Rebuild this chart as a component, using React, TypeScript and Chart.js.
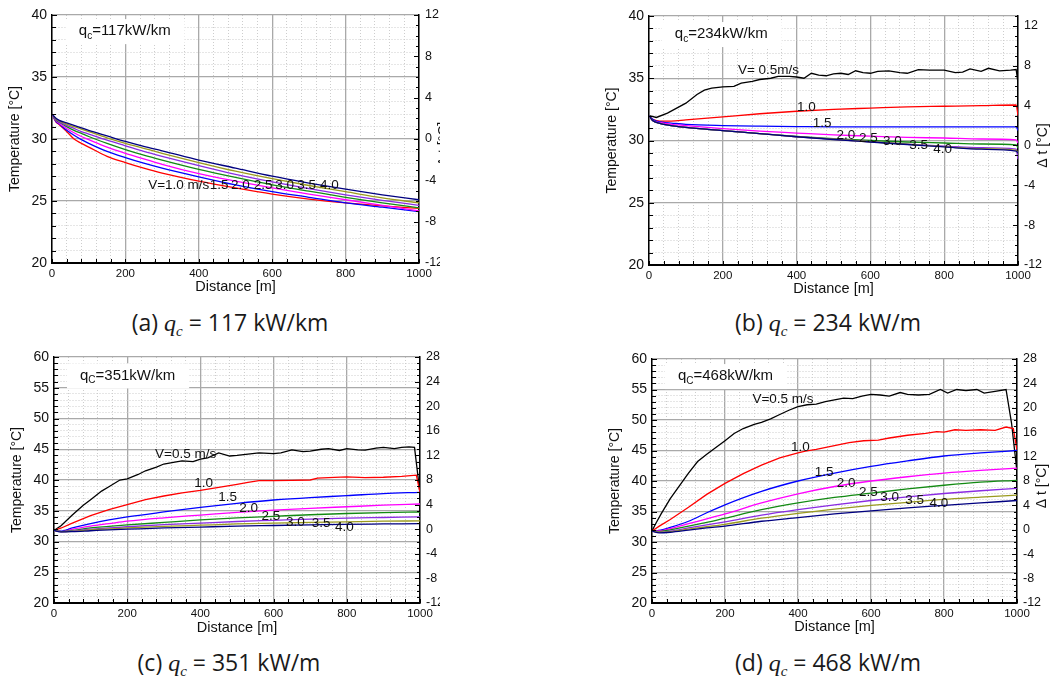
import React, { useEffect, useRef } from "react";
import { Chart, registerables } from "chart.js";

Chart.register(...registerables);

// ================= DATA =================
// Panel (a) qc = 117 kW/km
const distA = [0, 10, 20, 40, 60, 80, 100, 150, 200, 250, 300, 400, 500, 600, 700, 800, 900, 1000];
const tempA_v10 = [32, 31.4, 31.15, 30.6, 30.0, 29.65, 29.35, 28.6, 28.1, 27.65, 27.25, 26.6, 26.05, 25.55, 25.15, 24.85, 24.6, 24.4];
const tempA_v15 = [32, 31.45, 31.2, 30.7, 30.3, 29.95, 29.65, 29.0, 28.5, 28.05, 27.65, 26.95, 26.3, 25.75, 25.3, 24.85, 24.5, 24.15];
const tempA_v20 = [32, 31.5, 31.25, 30.85, 30.5, 30.2, 29.95, 29.35, 28.85, 28.4, 27.95, 27.2, 26.6, 26.05, 25.55, 25.1, 24.65, 24.2];
const tempA_v25 = [32, 31.55, 31.35, 31.0, 30.7, 30.45, 30.2, 29.65, 29.15, 28.7, 28.3, 27.55, 26.9, 26.3, 25.8, 25.3, 24.85, 24.45];
const tempA_v30 = [32, 31.6, 31.4, 31.1, 30.85, 30.6, 30.4, 29.9, 29.45, 29.0, 28.6, 27.85, 27.15, 26.55, 26.0, 25.5, 25.05, 24.65];
const tempA_v35 = [32, 31.65, 31.45, 31.2, 31.0, 30.8, 30.6, 30.1, 29.65, 29.25, 28.85, 28.1, 27.4, 26.8, 26.25, 25.75, 25.25, 24.85];
const tempA_v40 = [32, 31.7, 31.5, 31.3, 31.1, 30.9, 30.7, 30.25, 29.8, 29.4, 29.05, 28.3, 27.65, 27.0, 26.45, 25.95, 25.5, 25.1];

// Panel (b) qc = 234 kW/km
const distB = [0, 10, 20, 40, 60, 100, 200, 300, 400, 500, 600, 700, 800, 900, 995, 1000];
const tempB_v10 = [32.0, 31.7, 31.6, 31.55, 31.55, 31.65, 31.9, 32.15, 32.35, 32.5, 32.6, 32.7, 32.75, 32.8, 32.85, 32.0];
const tempB_v15 = [32.0, 31.7, 31.55, 31.45, 31.4, 31.3, 31.2, 31.15, 31.12, 31.1, 31.1, 31.1, 31.1, 31.1, 31.1, 30.8];
const tempB_v20 = [32.0, 31.6, 31.5, 31.4, 31.3, 31.2, 30.95, 30.75, 30.6, 30.45, 30.35, 30.25, 30.2, 30.12, 30.05, 29.8];
const tempB_v25 = [32.0, 31.6, 31.45, 31.3, 31.2, 31.05, 30.8, 30.55, 30.33, 30.15, 30.0, 29.88, 29.8, 29.72, 29.65, 29.4];
const tempB_v30 = [32.0, 31.6, 31.45, 31.3, 31.2, 31.05, 30.8, 30.55, 30.3, 30.1, 29.9, 29.7, 29.55, 29.42, 29.3, 28.5];
const tempB_v35 = [32.0, 31.6, 31.45, 31.3, 31.2, 31.05, 30.8, 30.55, 30.3, 30.1, 29.9, 29.7, 29.5, 29.35, 29.2, 29.0];
const tempB_v40 = [32.0, 31.6, 31.45, 31.3, 31.2, 31.05, 30.8, 30.55, 30.3, 30.08, 29.88, 29.68, 29.48, 29.3, 29.15, 29.0];
const distB_v05 = [0, 20, 50, 100, 130, 150, 170, 200, 230, 250, 280, 300, 330, 350, 380, 400, 420, 440, 460, 480, 500, 520, 540, 560, 580, 600, 620, 650, 680, 700, 730, 760, 800, 830, 850, 870, 900, 920, 950, 980, 995, 1000];
const tempB_v05 = [32.0, 31.85, 32.2, 33.0, 33.7, 34.05, 34.2, 34.3, 34.35, 34.6, 34.75, 34.9, 35.0, 35.15, 35.15, 35.1, 35.0, 35.4, 35.25, 35.2, 35.35, 35.4, 35.3, 35.6, 35.45, 35.4, 35.55, 35.6, 35.45, 35.4, 35.7, 35.65, 35.65, 35.45, 35.5, 35.75, 35.55, 35.8, 35.6, 35.65, 35.7, 34.6];

// Panel (c) qc = 351 kW/km
const distC = [0, 20, 50, 100, 150, 200, 300, 400, 500, 600, 700, 800, 900, 1000];
const tempC_v15 = [31.8, 31.7, 32.2, 32.9, 33.5, 34.0, 34.8, 35.55, 36.2, 36.75, 37.15, 37.45, 37.8, 38.0];
const tempC_v20 = [31.8, 31.6, 32.0, 32.5, 32.9, 33.3, 33.85, 34.3, 34.75, 35.1, 35.4, 35.65, 35.9, 36.1];
const tempC_v25 = [31.8, 31.6, 31.8, 32.2, 32.45, 32.7, 33.1, 33.5, 33.85, 34.1, 34.35, 34.55, 34.7, 34.8];
const tempC_v30 = [31.8, 31.6, 31.7, 32.0, 32.2, 32.4, 32.75, 33.0, 33.25, 33.45, 33.65, 33.8, 33.9, 34.0];
const tempC_v35 = [31.8, 31.6, 31.65, 31.9, 32.05, 32.2, 32.45, 32.65, 32.85, 33.0, 33.1, 33.2, 33.3, 33.35];
const tempC_v40 = [31.8, 31.55, 31.6, 31.75, 31.9, 32.0, 32.2, 32.35, 32.5, 32.6, 32.7, 32.8, 32.85, 32.9];
const distC_v10 = [0, 20, 50, 100, 150, 200, 250, 300, 350, 400, 450, 500, 530, 560, 600, 650, 700, 720, 750, 800, 850, 900, 950, 990, 1000];
const tempC_v10 = [31.8, 32.2, 33.0, 34.2, 35.2, 36.0, 36.8, 37.4, 37.9, 38.3, 38.8, 39.3, 39.6, 39.9, 39.9, 39.95, 40.0, 40.3, 40.4, 40.5, 40.4, 40.45, 40.6, 40.8, 38.0];
const distC_v05 = [0, 20, 50, 80, 100, 130, 150, 180, 200, 230, 250, 280, 300, 330, 350, 380, 400, 420, 450, 480, 500, 530, 560, 600, 620, 650, 680, 700, 730, 750, 780, 800, 830, 850, 880, 900, 930, 950, 970, 985, 1000];
const tempC_v05 = [31.8, 32.6, 34.3, 35.9, 36.8, 38.2, 38.9, 40.0, 40.2, 40.9, 41.5, 42.1, 42.6, 42.9, 43.1, 43.0, 43.4, 43.6, 44.4, 43.9, 44.0, 44.2, 44.4, 44.3, 44.4, 44.9, 44.6, 44.7, 45.0, 45.1, 44.8, 45.1, 44.9, 44.85, 45.2, 45.3, 45.1, 45.3, 45.4, 45.3, 37.8];

// Panel (d) qc = 468 kW/km
const distD = [0, 20, 50, 100, 150, 200, 300, 400, 500, 600, 700, 800, 900, 1000];
const tempD_v15 = [31.8, 31.9, 32.4, 33.4, 34.8, 36.1, 38.3, 40.0, 41.3, 42.4, 43.3, 44.1, 44.6, 45.0];
const tempD_v20 = [31.8, 31.8, 32.2, 33.0, 33.8, 34.6, 36.4, 37.9, 39.1, 40.0, 40.7, 41.3, 41.75, 42.1];
const tempD_v25 = [31.8, 31.7, 32.0, 32.6, 33.2, 33.9, 35.3, 36.4, 37.3, 38.0, 38.7, 39.3, 39.8, 40.1];
const tempD_v30 = [31.8, 31.6, 31.8, 32.3, 32.8, 33.3, 34.4, 35.3, 36.1, 36.8, 37.4, 37.95, 38.4, 38.8];
const tempD_v35 = [31.8, 31.6, 31.7, 32.1, 32.5, 32.9, 33.9, 34.7, 35.4, 36.0, 36.5, 37.0, 37.35, 37.7];
const tempD_v40 = [31.8, 31.5, 31.6, 31.95, 32.3, 32.6, 33.4, 34.0, 34.6, 35.1, 35.6, 36.0, 36.4, 36.8];
const distD_v10 = [0, 20, 50, 100, 150, 200, 250, 300, 350, 400, 420, 450, 500, 540, 580, 620, 650, 700, 750, 780, 800, 830, 860, 900, 940, 970, 990, 1000];
const tempD_v10 = [31.8, 32.6, 33.7, 35.7, 37.8, 39.6, 41.2, 42.6, 43.8, 44.6, 44.9, 45.2, 45.8, 46.3, 46.6, 46.7, 47.05, 47.5, 47.8, 48.1, 48.0, 48.4, 48.3, 48.4, 48.3, 48.85, 48.6, 45.0];
const distD_v05 = [0, 10, 25, 50, 75, 100, 125, 150, 175, 200, 225, 250, 280, 300, 325, 350, 375, 400, 425, 450, 475, 500, 525, 550, 575, 600, 625, 650, 680, 700, 730, 760, 790, 810, 835, 860, 890, 910, 940, 970, 985, 1000];
const tempD_v05 = [31.8, 33.0, 34.6, 37.1, 39.2, 41.3, 43.2, 44.4, 45.5, 46.6, 47.8, 48.6, 49.3, 49.6, 50.2, 50.9, 51.6, 52.2, 52.5, 52.6, 53.0, 53.3, 53.6, 53.5, 53.9, 54.2, 54.1, 53.9, 54.5, 54.2, 54.1, 54.2, 55.0, 54.4, 55.0, 54.8, 55.0, 54.4, 54.7, 55.0, 49.5, 41.5];

// Tick labels
const distanceTicks = [0, 200, 400, 600, 800, 1000];
const tempTicksLow = [20, 25, 30, 35, 40];
const tempTicksHigh = [20, 25, 30, 35, 40, 45, 50, 55, 60];
const deltaTicksLow = [-12, -8, -4, 0, 4, 8, 12];
const deltaTicksHigh = [-12, -8, -4, 0, 4, 8, 12, 16, 20, 24, 28];

// Curve label texts
const velLabelsA = ["V=1.0 m/s", "1.5", "2.0", "2.5", "3.0", "3.5", "4.0"];
const velLabelsB = ["V= 0.5m/s", "1.0", "1.5", "2.0", "2.5", "3.0", "3.5", "4.0"];
const velLabelsCD = ["V=0.5 m/s", "1.0", "1.5", "2.0", "2.5", "3.0", "3.5", "4.0"];

// Captions
const captionLetters = ["(a)", "(b)", "(c)", "(d)"];
const captionValues = ["= 117 kW/km", "= 234 kW/m", "= 351 kW/m", "= 468 kW/m"];
const qcValues = ["117kW/km", "234kW/km", "351kW/km", "468kW/km"];

// ================= STYLE =================
const FONT = "'Liberation Sans', Arial, Helvetica, sans-serif";
const C05 = "#000000";
const C10 = "#ff0000";
const C15 = "#0000ff";
const C20 = "#ff00ff";
const C25 = "#138a13";
const C30 = "#8a2be2";
const C35 = "#9a9a1e";
const C40 = "#000080";

type Series = { xs: number[]; ys: number[]; color: string; smooth: boolean };
type Note = { text: string; x: number; y: number };
type PanelCfg = {
  key: string;
  left: number; top: number; width: number; height: number;
  plotL: number; plotR: number; plotT: number; plotB: number;
  yMin: number; yMax: number; yTicks: number[];
  y2Min: number; y2Max: number; y2Ticks: number[];
  series: Series[];
  notes: Note[];
  qcSub: string; qcText: string; qcX: number; qcY: number;
  rightTitle: boolean;
  leftTitleX: number;
  xTitleY: number;
};

const range = (a: number, b: number, s: number) => {
  const out: number[] = [];
  for (let v = a; v <= b + 1e-9; v += s) out.push(Math.round(v * 1000) / 1000);
  return out;
};

const mk = (xs: number[], ys: number[], color: string, smooth = true): Series => ({ xs, ys, color, smooth });

const notesFrom = (texts: string[], pos: number[][]): Note[] =>
  texts.map((t, i) => ({ text: t, x: pos[i][0], y: pos[i][1] }));

const panels: PanelCfg[] = [
  {
    key: "a", left: 0, top: 0, width: 440, height: 300,
    plotL: 52, plotR: 419, plotT: 15, plotB: 263,
    yMin: 20, yMax: 40, yTicks: tempTicksLow,
    y2Min: -12, y2Max: 12, y2Ticks: deltaTicksLow,
    series: [
      mk(distA, tempA_v40, C40), mk(distA, tempA_v35, C35), mk(distA, tempA_v30, C30),
      mk(distA, tempA_v25, C25), mk(distA, tempA_v20, C20), mk(distA, tempA_v15, C15),
      mk(distA, tempA_v10, C10),
    ],
    notes: notesFrom(velLabelsA, [[262, 26.3], [430, 26.3], [488, 26.3], [550, 26.3], [608, 26.3], [668, 26.3], [730, 26.3]]),
    qcSub: "c", qcText: "=" + qcValues[0], qcX: 73, qcY: 38.7,
    rightTitle: true, leftTitleX: 15, xTitleY: 287,
  },
  {
    key: "b", left: 600, top: 0, width: 452, height: 300,
    plotL: 649, plotR: 1018, plotT: 16, plotB: 265,
    yMin: 20, yMax: 40, yTicks: tempTicksLow,
    y2Min: -12, y2Max: 13, y2Ticks: deltaTicksLow,
    series: [
      mk(distB, tempB_v40, C40), mk(distB, tempB_v35, C35), mk(distB, tempB_v30, C30),
      mk(distB, tempB_v25, C25), mk(distB, tempB_v20, C20), mk(distB, tempB_v15, C15),
      mk(distB, tempB_v10, C10), mk(distB_v05, tempB_v05, C05, false),
    ],
    notes: notesFrom(velLabelsB, [[241, 35.6], [401, 32.7], [444, 31.4], [508, 30.4], [569, 30.2], [634, 29.9], [705, 29.6], [770, 29.3]]),
    qcSub: "c", qcText: "=" + qcValues[1], qcX: 70, qcY: 38.55,
    rightTitle: true, leftTitleX: 12, xTitleY: 289,
  },
  {
    key: "c", left: 0, top: 340, width: 440, height: 300,
    plotL: 54, plotR: 420, plotT: 357, plotB: 603,
    yMin: 20, yMax: 60, yTicks: tempTicksHigh,
    y2Min: -12, y2Max: 28, y2Ticks: deltaTicksHigh,
    series: [
      mk(distC, tempC_v40, C40), mk(distC, tempC_v35, C35), mk(distC, tempC_v30, C30),
      mk(distC, tempC_v25, C25), mk(distC, tempC_v20, C20), mk(distC, tempC_v15, C15),
      mk(distC_v10, tempC_v10, C10, false), mk(distC_v05, tempC_v05, C05, false),
    ],
    notes: notesFrom(velLabelsCD, [[276, 44.2], [383, 39.5], [449, 37.2], [506, 35.4], [567, 34.05], [634, 33.2], [704, 32.9], [768, 32.3]]),
    qcSub: "C", qcText: "=" + qcValues[2], qcX: 71, qcY: 57.0,
    rightTitle: false, leftTitleX: 17, xTitleY: 628,
  },
  {
    key: "d", left: 600, top: 340, width: 452, height: 300,
    plotL: 652, plotR: 1017, plotT: 359, plotB: 603,
    yMin: 20, yMax: 60, yTicks: tempTicksHigh,
    y2Min: -12, y2Max: 28, y2Ticks: deltaTicksHigh,
    series: [
      mk(distD, tempD_v40, C40), mk(distD, tempD_v35, C35), mk(distD, tempD_v30, C30),
      mk(distD, tempD_v25, C25), mk(distD, tempD_v20, C20), mk(distD, tempD_v15, C15),
      mk(distD_v10, tempD_v10, C10, false), mk(distD_v05, tempD_v05, C05, false),
    ],
    notes: notesFrom(velLabelsCD, [[275, 53.4], [381, 45.6], [446, 41.4], [506, 39.6], [567, 38.2], [625, 37.4], [694, 36.8], [760, 36.3]]),
    qcSub: "C", qcText: "=" + qcValues[3], qcX: 71, qcY: 57.2,
    rightTitle: true, leftTitleX: 15, xTitleY: 627,
  },
];

const MAJOR = "#a9a9a9";
const MINOR = "#cdcdcd";

function buildConfig(cfg: PanelCfg): any {
  const leftW = cfg.plotL - cfg.left;
  const rightW = cfg.left + cfg.width - cfg.plotR;
  const bottomH = cfg.top + cfg.height - cfg.plotB;
  const xTitleSize = 14.5;
  const yTitleSize = 14;
  const xTitlePad = cfg.top + cfg.height - cfg.xTitleY - (xTitleSize * 1.2) / 2;
  const yTitlePad = cfg.leftTitleX - (yTitleSize * 1.2) / 2;
  const xAll = range(0, 1000, 40);
  const yAll = range(cfg.yMin, cfg.yMax, 1);
  const y2All = range(cfg.y2Min, cfg.y2Max, 1);
  const xMajor = (v: number) => distanceTicks.includes(v);
  const yMajor = (v: number) => cfg.yTicks.includes(v);

  const datasets = cfg.series.map((s) => ({
    data: s.xs.map((x, i) => ({ x, y: s.ys[i] })),
    borderColor: s.color,
    backgroundColor: s.color,
    borderWidth: 1.3,
    pointRadius: 0,
    fill: false,
    tension: 0,
    cubicInterpolationMode: s.smooth ? "monotone" : "default",
    xAxisID: "x",
    yAxisID: "y",
  }));

  const overlay = {
    id: "overlay_" + cfg.key,
    afterDraw(chart: any) {
      const { ctx, chartArea: ca } = chart;
      const xs = chart.scales.x;
      const ys = chart.scales.y;
      const y2 = chart.scales.y2;
      ctx.save();
      // inward tick marks
      ctx.strokeStyle = "#000";
      ctx.lineWidth = 1;
      ctx.beginPath();
      for (const v of xAll) {
        const px = Math.round(xs.getPixelForValue(v)) + 0.5;
        ctx.moveTo(px, ca.bottom);
        ctx.lineTo(px, ca.bottom - 4);
      }
      for (const v of yAll) {
        const py = Math.round(ys.getPixelForValue(v)) + 0.5;
        ctx.moveTo(ca.left, py);
        ctx.lineTo(ca.left + (yMajor(v) ? 5 : 4), py);
      }
      for (const v of y2All) {
        const py = Math.round(y2.getPixelForValue(v)) + 0.5;
        ctx.moveTo(ca.right, py);
        ctx.lineTo(ca.right - (cfg.y2Ticks.includes(v) ? 5 : 3), py);
      }
      ctx.stroke();

      // qc box
      const tx = xs.getPixelForValue(cfg.qcX);
      const ty = ys.getPixelForValue(cfg.qcY);
      ctx.font = `15px ${FONT}`;
      const wq = ctx.measureText("q").width;
      const wr = ctx.measureText(cfg.qcText).width;
      ctx.font = `10px ${FONT}`;
      const wc = ctx.measureText(cfg.qcSub).width;
      const total = wq + wc + wr;
      ctx.fillStyle = "#ffffff";
      ctx.fillRect(tx - 13, ty - 12, total + 27, 25);
      ctx.fillStyle = "#111";
      ctx.textAlign = "left";
      ctx.textBaseline = "middle";
      ctx.font = `15px ${FONT}`;
      ctx.fillText("q", tx, ty);
      ctx.font = `10px ${FONT}`;
      ctx.fillText(cfg.qcSub, tx + wq, ty + 5);
      ctx.font = `15px ${FONT}`;
      ctx.fillText(cfg.qcText, tx + wq + wc, ty);

      // velocity labels
      ctx.font = `13.5px ${FONT}`;
      ctx.fillStyle = "#111";
      for (const n of cfg.notes) {
        ctx.fillText(n.text, xs.getPixelForValue(n.x), ys.getPixelForValue(n.y));
      }

      // right axis title (reads bottom to top)
      if (cfg.rightTitle) {
        ctx.save();
        ctx.translate(ca.right + 25, (ca.top + ca.bottom) / 2 + 5);
        ctx.rotate(-Math.PI / 2);
        ctx.textAlign = "center";
        ctx.textBaseline = "middle";
        ctx.font = `14px ${FONT}`;
        ctx.fillStyle = "#111";
        ctx.fillText("\u0394 t [\u00B0C]", 0, 0);
        ctx.restore();
      }
      ctx.restore();
    },
  };

  return {
    type: "line",
    data: { datasets },
    plugins: [overlay],
    options: {
      responsive: false,
      maintainAspectRatio: false,
      animation: false,
      devicePixelRatio: 1,
      events: [],
      layout: { padding: { top: cfg.plotT - cfg.top, left: 0, right: 0, bottom: 0 } },
      plugins: { legend: { display: false }, tooltip: { enabled: false }, title: { display: false } },
      scales: {
        x: {
          type: "linear",
          position: "bottom",
          min: 0,
          max: 1000,
          afterBuildTicks: (s: any) => {
            s.ticks = xAll.map((v) => ({ value: v }));
          },
          afterFit: (s: any) => {
            s.height = bottomH;
          },
          ticks: {
            autoSkip: false,
            maxRotation: 0,
            minRotation: 0,
            padding: 4,
            color: "#111",
            font: { family: FONT, size: 11.5 },
            callback: (v: any) => (xMajor(Number(v)) ? String(v) : ""),
          },
          grid: {
            drawTicks: false,
            color: (c: any) => (c.tick && xMajor(c.tick.value) ? MAJOR : MINOR),
            lineWidth: (c: any) => (c.tick && xMajor(c.tick.value) ? 1.3 : 1),
          },
          border: {
            display: true,
            color: "#000",
            width: 2,
            dash: (c: any) => (c.tick && !xMajor(c.tick.value) ? [1, 2] : []),
          },
          title: {
            display: true,
            text: "Distance [m]",
            color: "#111",
            font: { family: FONT, size: xTitleSize },
            padding: { top: 0, bottom: xTitlePad },
          },
        },
        y: {
          type: "linear",
          position: "left",
          min: cfg.yMin,
          max: cfg.yMax,
          afterBuildTicks: (s: any) => {
            s.ticks = yAll.map((v) => ({ value: v }));
          },
          afterFit: (s: any) => {
            s.width = leftW;
          },
          ticks: {
            autoSkip: false,
            padding: 5,
            color: "#111",
            font: { family: FONT, size: 14 },
            callback: (v: any) => (yMajor(Number(v)) ? String(v) : ""),
          },
          grid: {
            drawTicks: false,
            color: (c: any) => (c.tick && yMajor(c.tick.value) ? MAJOR : MINOR),
            lineWidth: (c: any) => (c.tick && yMajor(c.tick.value) ? 1.3 : 1),
          },
          border: {
            display: true,
            color: "#000",
            width: 1.5,
            dash: (c: any) => (c.tick && !yMajor(c.tick.value) ? [1, 2] : []),
          },
          title: {
            display: true,
            text: "Temperature [\u00B0C]",
            color: "#111",
            font: { family: FONT, size: yTitleSize },
            padding: { top: yTitlePad, bottom: 0 },
          },
        },
        y2: {
          type: "linear",
          position: "right",
          min: cfg.y2Min,
          max: cfg.y2Max,
          afterBuildTicks: (s: any) => {
            s.ticks = cfg.y2Ticks.map((v) => ({ value: v }));
          },
          afterFit: (s: any) => {
            s.width = rightW;
          },
          ticks: {
            autoSkip: false,
            padding: 6,
            color: "#111",
            font: { family: FONT, size: 12.5 },
            callback: (v: any) => String(v),
          },
          grid: { drawOnChartArea: false, drawTicks: false },
          border: { display: true, color: "#000", width: 1.5 },
          title: { display: false },
        },
      },
    },
  };
}

function PanelChart({ cfg }: { cfg: PanelCfg }) {
  const ref = useRef<HTMLCanvasElement | null>(null);
  useEffect(() => {
    if (!ref.current) return;
    const chart = new Chart(ref.current, buildConfig(cfg));
    return () => chart.destroy();
  }, [cfg]);
  return (
    <canvas
      ref={ref}
      width={cfg.width}
      height={cfg.height}
      style={{ position: "absolute", left: cfg.left, top: cfg.top, width: cfg.width, height: cfg.height }}
    />
  );
}

const captionPos = [
  [230, 322],
  [828, 322],
  [229, 662],
  [828, 662],
];

function Caption({ i }: { i: number }) {
  const [cx, cy] = captionPos[i];
  return (
    <div
      style={{
        position: "absolute",
        left: cx - 160,
        width: 320,
        top: cy - 16,
        height: 32,
        lineHeight: "32px",
        textAlign: "center",
        fontFamily: "'Open Sans', 'Noto Sans', sans-serif",
        fontSize: 23,
        color: "#1a1a1a",
        whiteSpace: "nowrap",
      }}
    >
      {captionLetters[i]}{" "}
      <span style={{ fontFamily: "'Liberation Serif', 'DejaVu Serif', serif", fontStyle: "italic", fontSize: 24 }}>
        q
        <span style={{ fontSize: 15, position: "relative", top: 5, lineHeight: 0 }}>c</span>
      </span>{" "}
      {captionValues[i]}
    </div>
  );
}

export default function App() {
  return (
    <div style={{ position: "absolute", left: 0, top: 0, width: 1052, height: 676, background: "#ffffff", overflow: "hidden" }}>
      {panels.map((p) => (
        <PanelChart key={p.key} cfg={p} />
      ))}
      {captionLetters.map((_, i) => (
        <Caption key={i} i={i} />
      ))}
    </div>
  );
}
